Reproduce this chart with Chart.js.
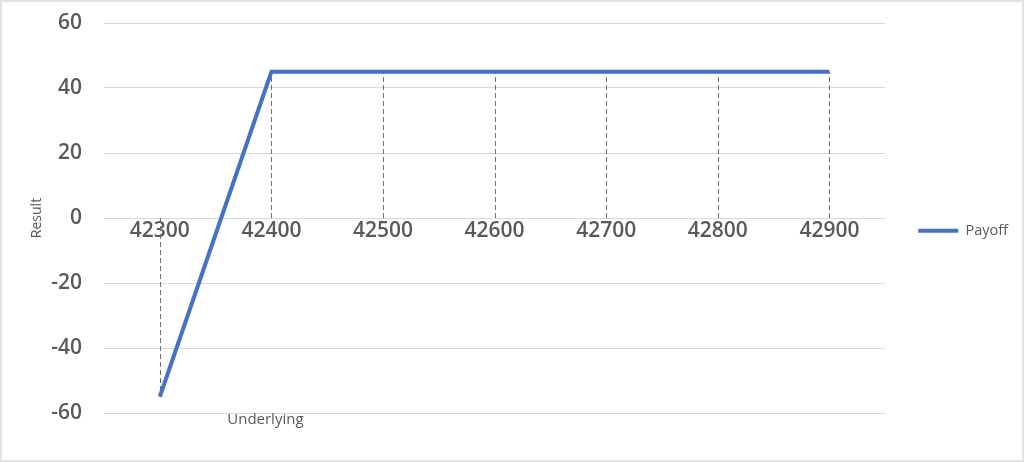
<!DOCTYPE html>
<html>
<head>
<meta charset="utf-8">
<script src="https://cdn.jsdelivr.net/npm/chart.js@4/dist/chart.umd.min.js"></script>
<style>
    html, body { margin: 0; padding: 0; background: #ffffff; }
    #wrap { width: 1024px; height: 462px; box-sizing: border-box; border: 2px solid #e3e3e3; }
    canvas { display: block; }
</style>
</head>
<body>
<div id="wrap"><canvas id="payoffChart" width="1020" height="458"></canvas></div>
<script>
const underlying = ["42300", "42400", "42500", "42600", "42700", "42800", "42900"];
const payoff = [-55, 45, 45, 45, 45, 45, 45];
const resultTicks = [-60, -40, -20, 0, 20, 40, 60];

const textColor = "#595959";

// dashed drop lines from each point down/up to zero
const dropLines = {
    id: "dropLines",
    beforeDatasetsDraw(chart) {
        const ctx = chart.ctx;
        const x = chart.scales.x;
        const y = chart.scales.y;
        ctx.save();
        ctx.strokeStyle = "#707070";
        ctx.lineWidth = 1;
        ctx.setLineDash([5, 3]);
        payoff.forEach((v, i) => {
            const px = Math.round(x.getPixelForValue(i)) + 0.5;
            ctx.beginPath();
            ctx.moveTo(px, y.getPixelForValue(0));
            ctx.lineTo(px, y.getPixelForValue(v));
            ctx.stroke();
        });
        ctx.restore();
    }
};

// category axis title sits low, under the second category
const underlyingTitle = {
    id: "underlyingTitle",
    afterDraw(chart) {
        const ctx = chart.ctx;
        const x = chart.scales.x;
        ctx.save();
        ctx.fillStyle = textColor;
        ctx.font = "15px 'Open Sans'";
        ctx.textAlign = "center";
        ctx.textBaseline = "middle";
        ctx.fillText("Underlying", x.getPixelForValue(1) - 6, chart.chartArea.bottom + 7);
        ctx.restore();
    }
};

new Chart(document.getElementById("payoffChart"), {
    type: "line",
    data: {
        labels: underlying,
        datasets: [{
            label: "Payoff",
            data: payoff,
            borderColor: "#4472c4",
            backgroundColor: "#4472c4",
            borderWidth: 4,
            pointRadius: 0,
            pointStyle: "line",
            tension: 0,
            fill: false
        }]
    },
    options: {
        responsive: false,
        animation: false,
        layout: {
            padding: { top: 21, bottom: 47, left: 0, right: 4 }
        },
        plugins: {
            legend: {
                position: "right",
                title: {
                    display: true,
                    text: "",
                    font: { size: 12 },
                    padding: { top: 11, bottom: 0 }
                },
                labels: {
                    usePointStyle: true,
                    pointStyleWidth: 40,
                    boxWidth: 34,
                    boxHeight: 4,
                    padding: 33,
                    color: textColor,
                    font: { family: "'Open Sans'", size: 14.5 }
                }
            },
            tooltip: { enabled: false }
        },
        scales: {
            x: {
                position: { y: 0 },
                offset: true,
                grid: { display: false, drawTicks: false },
                border: { display: false },
                ticks: {
                    padding: 0,
                    color: textColor,
                    font: { family: "'Open Sans'", size: 21, weight: "600" }
                }
            },
            y: {
                min: -60,
                max: 60,
                afterBuildTicks(scale) {
                    scale.ticks = resultTicks.map(v => ({ value: v }));
                },
                afterFit(scale) {
                    scale.width = 102;
                    scale.paddingTop = 0;
                    scale.paddingBottom = 0;
                },
                grid: { color: "#d9d9d9", drawTicks: false, lineWidth: 1 },
                border: { display: false },
                ticks: {
                    padding: 22,
                    color: textColor,
                    font: { family: "'Open Sans'", size: 21, weight: "600" }
                },
                title: {
                    display: true,
                    text: "Result",
                    color: textColor,
                    font: { family: "'Open Sans'", size: 14 },
                    padding: { top: 27, bottom: 0 }
                }
            }
        }
    },
    plugins: [dropLines, underlyingTitle]
});
</script>
</body>
</html>
